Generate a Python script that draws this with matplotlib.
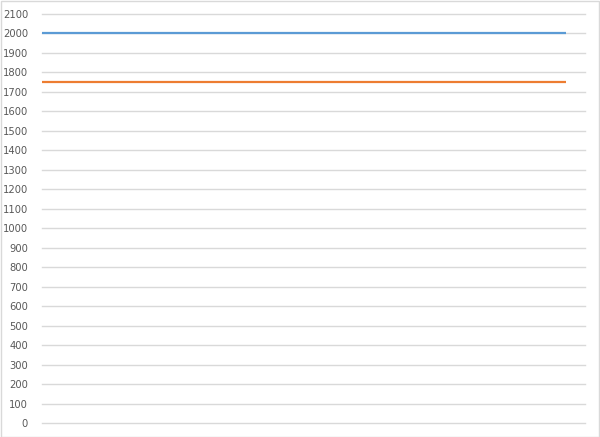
import matplotlib.pyplot as plt
from matplotlib.patches import Rectangle

# two flat series, one category at each end
x_vals = [0, 1]
series_a = [2000, 2000]
series_b = [1750, 1750]
y_ticks = list(range(0, 2101, 100))

fig = plt.figure(figsize=(6, 4.37), dpi=100)
ax = fig.add_axes([0.07, 0.032, 0.905, 0.936])

ax.plot(x_vals, series_a, color='#5B9BD5', lw=1.6, solid_capstyle='butt')
ax.plot(x_vals, series_b, color='#ED7D31', lw=1.6, solid_capstyle='butt')

ax.set_ylim(0, 2100)
ax.set_xlim(0, 1.036)
ax.set_yticks(y_ticks)
ax.set_xticks([])
ax.grid(axis='y', color='#d9d9d9', lw=1)
for gl in ax.get_ygridlines():
    gl.set_clip_on(False)
ax.set_axisbelow(True)
for s in ax.spines.values():
    s.set_visible(False)
ax.tick_params(axis='y', length=0, pad=10, labelsize=7.2, labelcolor='#595959')

# outer chart border
fig.patches.append(Rectangle((0.001, 0.001), 0.997, 0.997, transform=fig.transFigure,
                             fill=False, edgecolor='#d9d9d9', lw=1))

fig.savefig('out.png', dpi=100)
